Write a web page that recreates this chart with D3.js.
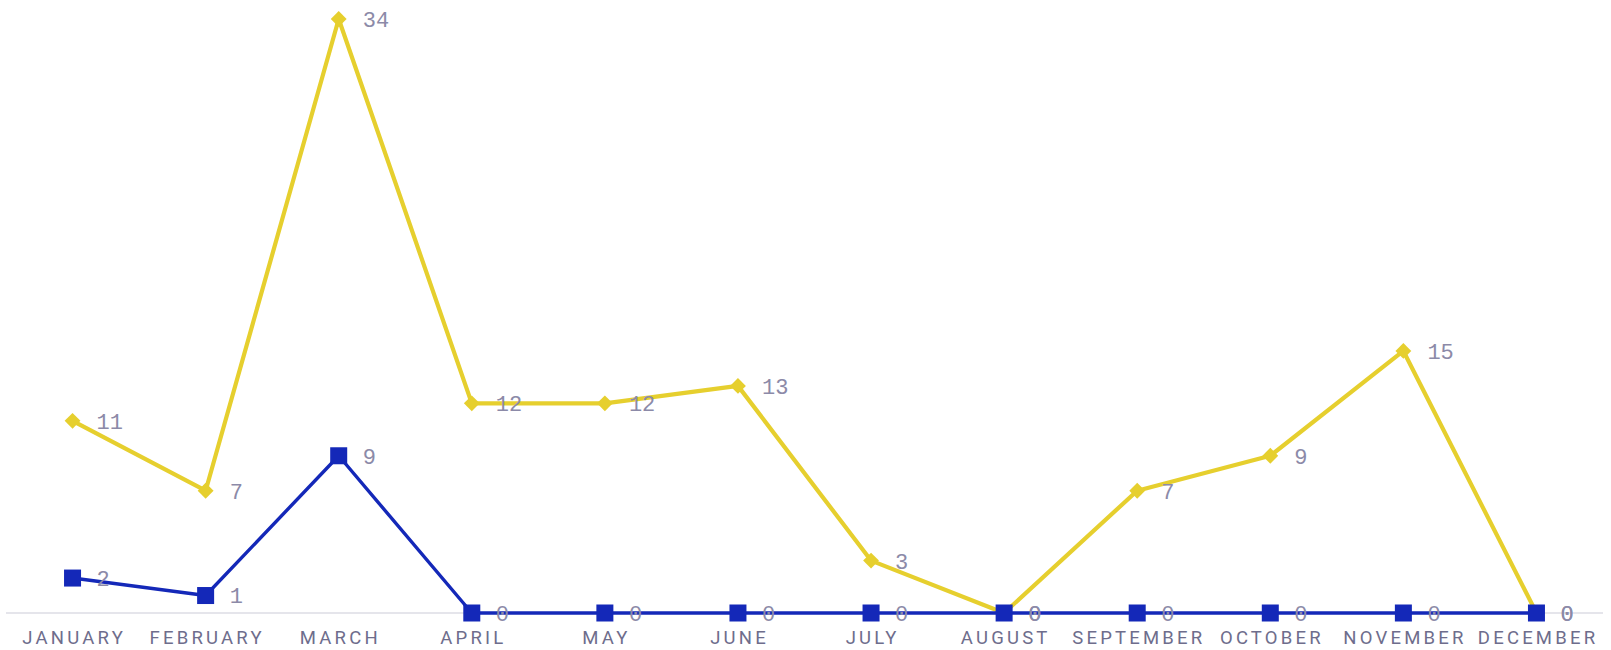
<!DOCTYPE html>
<html><head><meta charset="utf-8">
<script src="https://cdn.jsdelivr.net/npm/d3@7"></script>
<style>body{margin:0;background:#fff;}svg{display:block;}</style>
</head><body>
<svg id="chart" width="1611" height="650"></svg>
<script>
const months = ["JANUARY","FEBRUARY","MARCH","APRIL","MAY","JUNE","JULY","AUGUST","SEPTEMBER","OCTOBER","NOVEMBER","DECEMBER"];
const yellowValues = [11,7,34,12,12,13,3,0,7,9,15,0];
const blueValues = [2,1,9,0,0,0,0,0,0,0,0,0];

const svg = d3.select("#chart");
const x = d3.scalePoint().domain(months).range([6,1603]).padding(0.5);
const y = d3.scaleLinear().domain([0,34]).range([613,19]);

svg.append("line").attr("x1",6).attr("x2",1603).attr("y1",y(0)).attr("y2",y(0))
  .attr("stroke","#dcdce4").attr("stroke-width",1.5);

svg.append("g").selectAll("text").data(months).join("text")
  .attr("x",d=>x(d)+1.6).attr("y",644)
  .attr("text-anchor","middle")
  .attr("font-family","Roboto, 'Liberation Sans', sans-serif")
  .attr("font-size",18.5).attr("letter-spacing","3.2px")
  .attr("fill","#6e6d8c").text(d=>d);

const series = [
  {vals: yellowValues, color:"#e6cf2e", width:4.2, shape:"diamond"},
  {vals: blueValues, color:"#1428b8", width:3.4, shape:"square"}
];
const line = d3.line().x(d=>x(d.m)).y(d=>y(d.v));
series.forEach(s=>{
  const data = s.vals.map((v,i)=>({m:months[i],v}));
  svg.append("path").datum(data).attr("d",line).attr("fill","none")
    .attr("stroke",s.color).attr("stroke-width",s.width).attr("stroke-linejoin","round");
  const g = svg.append("g");
  data.forEach(d=>{
    if(s.shape==="square"){
      g.append("rect").attr("x",x(d.m)-8.5).attr("y",y(d.v)-8.5).attr("width",17).attr("height",17).attr("fill",s.color);
    } else {
      g.append("rect").attr("x",-5.6).attr("y",-5.6).attr("width",11.2).attr("height",11.2)
        .attr("fill",s.color).attr("transform",`translate(${x(d.m)},${y(d.v)}) rotate(45)`);
    }
  });
});
series.forEach(s=>{
  svg.append("g").selectAll("text").data(s.vals.map((v,i)=>({m:months[i],v}))).join("text")
    .attr("x",d=>x(d.m)+24).attr("y",d=>y(d.v)).attr("dy","0.36em")
    .attr("font-family","'Liberation Mono', 'DejaVu Sans Mono', monospace")
    .attr("font-size",22).attr("fill","#8c8aa8").text(d=>d.v);
});
</script>
</body></html>
